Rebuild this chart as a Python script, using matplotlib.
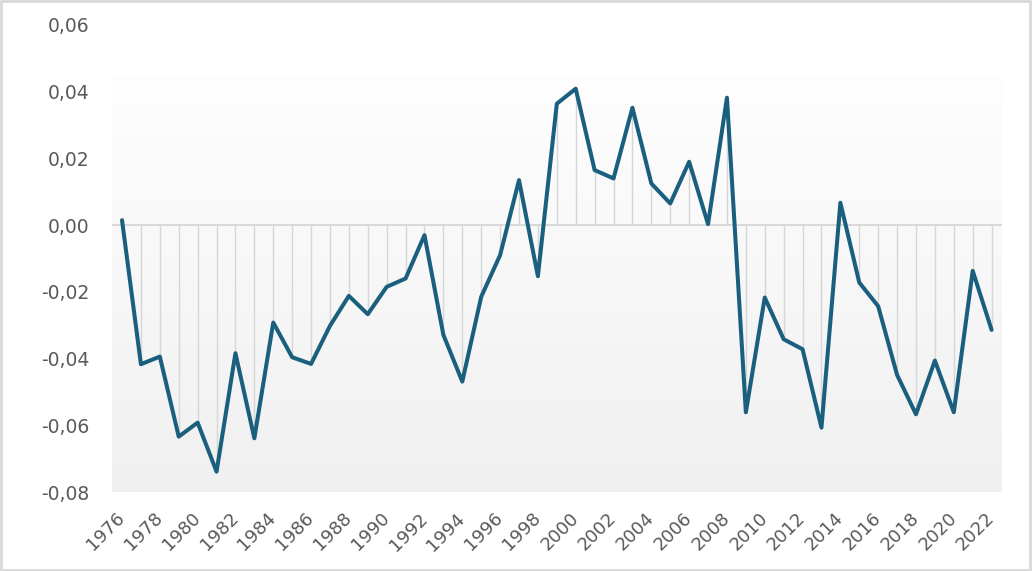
import matplotlib
matplotlib.use('Agg')
import matplotlib.pyplot as plt
import numpy as np
from matplotlib.patches import Rectangle
from matplotlib.colors import LinearSegmentedColormap
from matplotlib.ticker import FuncFormatter

years = list(range(1976, 2023))
values = [
    0.0015, -0.0417, -0.0394, -0.0634, -0.0592, -0.0739, -0.0384, -0.0639,
    -0.0292, -0.0396, -0.0416, -0.0302, -0.0212, -0.0267, -0.0185, -0.0160,
    -0.0030, -0.0329, -0.0469, -0.0215, -0.0090, 0.0135, -0.0153, 0.0364,
    0.0409, 0.0165, 0.0140, 0.0352, 0.0125, 0.0065, 0.0190, 0.0003,
    0.0382, -0.0561, -0.0217, -0.0342, -0.0372, -0.0607, 0.0067, -0.0172,
    -0.0243, -0.0449, -0.0567, -0.0406, -0.0561, -0.0137, -0.0314,
]
yticks = [-0.08, -0.06, -0.04, -0.02, 0.0, 0.02, 0.04, 0.06]
xticks = list(range(1976, 2023, 2))

LINE = '#1a5f7e'
GRID = '#d6d6d6'
TXT = '#595959'

fig = plt.figure(figsize=(10.32, 5.71), dpi=100)
fig.patch.set_facecolor('white')
ax = fig.add_axes([112/1032, 1 - 492/571, 890/1032, 467/571])

x0, x1 = 1975.47, 2022.55
ax.set_xlim(x0, x1)
ax.set_ylim(-0.08, 0.06)

# soft grey gradient behind the plot
grad = np.linspace(0, 1, 256).reshape(-1, 1)
cmap = LinearSegmentedColormap.from_list('bg', ['#fefefe', '#f0f0f0'])
ax.imshow(grad, aspect='auto', cmap=cmap, extent=[x0, x1, -0.08, 0.0443],
          origin='upper', zorder=0)

ax.axhline(0, color=GRID, lw=1.3, zorder=1)
ax.vlines(years, 0, values, color=GRID, lw=1.0, zorder=1)
ax.plot(years, values, color=LINE, lw=2.9, solid_joinstyle='round',
        solid_capstyle='round', zorder=3)

ax.set_yticks(yticks)
ax.yaxis.set_major_formatter(FuncFormatter(lambda v, p: f'{v:.2f}'.replace('.', ',').replace('-0,00', '0,00')))
ax.set_xticks(xticks)
ax.set_xticklabels([str(y) for y in xticks], rotation=45, ha='right',
                   va='center', rotation_mode='anchor')
ax.tick_params(axis='y', length=0, pad=16, labelsize=13.5, labelcolor=TXT)
ax.tick_params(axis='x', length=0, pad=17, labelsize=13, labelcolor=TXT)
for s in ax.spines.values():
    s.set_visible(False)

fig.patches.append(Rectangle((0.001, 0.002), 0.997, 0.996, transform=fig.transFigure,
                             fill=False, edgecolor='#d9d9d9', lw=2))

fig.savefig('out.png', dpi=100, facecolor='white')
